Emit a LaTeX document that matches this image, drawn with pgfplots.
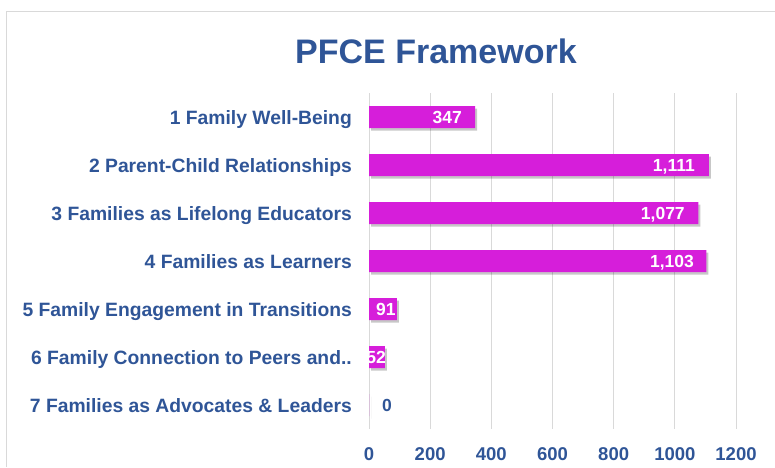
\documentclass[border=0pt]{standalone}
\usepackage{fontspec}
\setmainfont{Liberation Sans}
\usepackage{pgfplots}
\pgfplotsset{compat=1.18}
\usetikzlibrary{shadows}

\definecolor{barmag}{RGB}{214,30,218}
\definecolor{txtblue}{RGB}{47,85,151}
\definecolor{gridgray}{RGB}{217,217,217}

\pgfplotstableread{
y val
1 347
2 1111
3 1077
4 1103
5 91
6 52
7 0
}\framedata

% label positions (right edge of each value label)
\pgfplotstableread{
y pos label
1 304 347
2 1066 1,111
3 1033 1,077
4 1063 1,103
5 88 91
6 56 52
}\whitelabels

\begin{document}
\begin{tikzpicture}
\path[use as bounding box] (0,0) rectangle (775pt,467pt);
\draw[gridgray, line width=0.8pt] (775pt,456pt) -- (6pt,456pt) -- (6pt,0pt);

\node[anchor=base, txtblue, font=\fontsize{34}{40}\selectfont\bfseries] at (436pt,403pt) {PFCE Framework};

\begin{axis}[
    at={(369pt,38pt)}, anchor=south west,
    scale only axis,
    width=367pt, height=336pt,
    xmin=0, xmax=1200,
    ymin=0.5, ymax=7.5,
    y dir=reverse,
    xtick={0,200,...,1200},
    ytick={1,...,7},
    yticklabels={
        1 Family Well-Being,
        2 Parent-Child Relationships,
        3 Families as Lifelong Educators,
        4 Families as Learners,
        5 Family Engagement in Transitions,
        6 Family Connection to Peers and..,
        7 Families as Advocates \& Leaders},
    axis line style={draw=none},
    major tick length=0pt,
    xmajorgrids,
    major grid style={gridgray, line width=0.9pt},
    /pgf/number format/assume math mode=true,
    /pgf/number format/1000 sep={},
    xticklabel style={font=\fontsize{18.5}{22}\selectfont\bfseries, txtblue, anchor=base, yshift=-31pt, inner sep=0pt},
    yticklabel style={font=\fontsize{19.3}{22}\selectfont\bfseries, txtblue, anchor=base east, xshift=-17pt, yshift=-7pt, inner sep=0pt},
    clip=false,
]
\addplot[xbar, bar width=22pt, bar shift=0pt, fill=barmag, draw=none,
    drop shadow={shadow xshift=2pt, shadow yshift=-2.5pt, opacity=0.22, fill=black}]
    table[x=val, y=y] {\framedata};

\addplot[draw=none, mark=none, nodes near coords, point meta=explicit symbolic,
    every node near coord/.style={anchor=base east, yshift=-6.5pt, inner sep=0pt,
        white, font=\fontsize{17.5}{20}\selectfont\bfseries}]
    table[x=pos, y=y, meta=label] {\whitelabels};

\addplot[draw=none, mark=none, nodes near coords, point meta=explicit symbolic,
    every node near coord/.style={anchor=base east, yshift=-6.5pt, inner sep=0pt,
        txtblue, font=\fontsize{17.5}{20}\selectfont\bfseries}]
    coordinates {(75,7) [0]};
\end{axis}
\end{tikzpicture}
\end{document}
